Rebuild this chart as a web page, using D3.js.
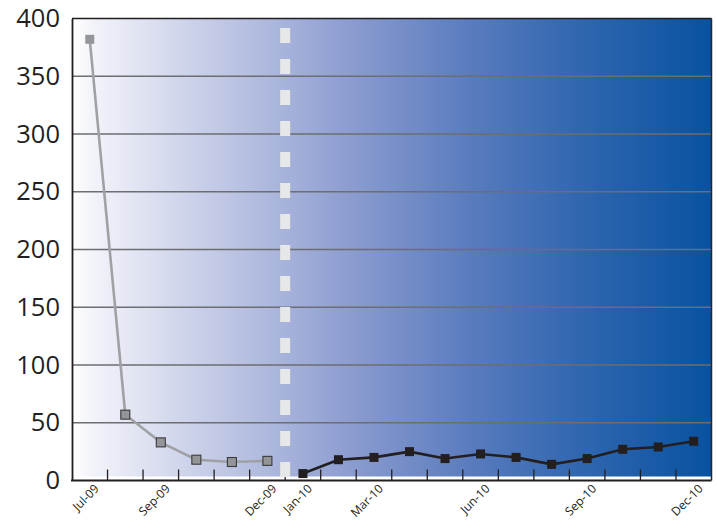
<!DOCTYPE html>
<html><head><meta charset="utf-8">
<script src="https://cdn.jsdelivr.net/npm/d3@7"></script>
<style>body{margin:0;background:#fff}svg{display:block}</style>
</head><body><svg id="c" width="717" height="522"></svg>
<script>
const months = ["Jul-09","Aug-09","Sep-09","Oct-09","Nov-09","Dec-09","Jan-10","Feb-10","Mar-10","Apr-10","May-10","Jun-10","Jul-10","Aug-10","Sep-10","Oct-10","Nov-10","Dec-10"];
const series2009 = [382, 57, 33, 18, 16, 17];
const series2010 = [6, 18, 20, 25, 19, 23, 20, 14, 19, 27, 29, 34];
const labeledMonths = ["Jul-09","Sep-09","Dec-09","Jan-10","Mar-10","Jun-10","Sep-10","Dec-10"];
const yTicks = [0,50,100,150,200,250,300,350,400];

const svg = d3.select("#c");
const L = 72, R = 711.5, T = 18.5, B = 480.5;
const x = d3.scaleBand().domain(months).range([L, R]);
const y = d3.scaleLinear().domain([0, 400]).range([B, T]);

const defs = svg.append("defs");
const g = defs.append("linearGradient").attr("id","bg").attr("x1","0").attr("x2","1").attr("y1","0").attr("y2","0");
[[0,"#ffffff"],[0.03,"#f3f4fa"],[0.18,"#cdd3ea"],[0.29,"#b2bcdf"],[0.43,"#8d9dd0"],[0.62,"#5a7cbe"],[0.79,"#3167b0"],[1,"#0852a0"]]
  .forEach(([o,c]) => g.append("stop").attr("offset",o).attr("stop-color",c));

svg.append("rect").attr("x",L).attr("y",T).attr("width",R-L).attr("height",y(0)-4-T).attr("fill","url(#bg)");

// gridlines
svg.append("g").selectAll("line").data(yTicks.filter(d=>d>0 && d<400)).join("line")
  .attr("x1",L).attr("x2",R).attr("y1",d=>y(d)).attr("y2",d=>y(d))
  .attr("stroke","#6d6e71").attr("stroke-width",1.4);

// borders
svg.append("line").attr("x1",L).attr("x2",R).attr("y1",T).attr("y2",T).attr("stroke","#231f20").attr("stroke-width",1.5);
svg.append("line").attr("x1",R).attr("x2",R).attr("y1",T).attr("y2",B).attr("stroke","#1c2a3f").attr("stroke-width",1.5);

// y axis
const ya = d3.axisLeft(y).tickValues(yTicks).tickSize(0).tickPadding(12);
const yg = svg.append("g").attr("transform",`translate(${L},0)`).call(ya);
yg.select(".domain").attr("stroke","#231f20").attr("stroke-width",1.8);
yg.selectAll("text").attr("font-family","'Open Sans', sans-serif").attr("font-size",25.5).attr("fill","#231f20");

// x axis with ticks at band boundaries pointing up
const bounds = months.slice(1).map(m => x(m));
svg.append("g").selectAll("line").data(bounds).join("line")
  .attr("x1",d=>d).attr("x2",d=>d).attr("y1",B-11).attr("y2",B)
  .attr("stroke","#231f20").attr("stroke-width",1.3);
svg.append("line").attr("x1",L-1).attr("x2",R).attr("y1",B).attr("y2",B).attr("stroke","#231f20").attr("stroke-width",1.8);

svg.append("g").selectAll("text").data(labeledMonths).join("text")
  .attr("transform",d=>`translate(${x(d)+x.bandwidth()/2+4},${B+3}) rotate(-45)`)
  .attr("text-anchor","end").attr("dy","0.7em")
  .attr("font-family","'Open Sans', sans-serif").attr("font-size",12).attr("fill","#231f20")
  .text(d=>d);

// dashed divider
const divX = x("Jan-10");
svg.append("line").attr("x1",divX).attr("x2",divX).attr("y1",28).attr("y2",B+1)
  .attr("stroke","#e6e7e8").attr("stroke-width",10).attr("stroke-dasharray","15 16");

const cx = m => x(m) + x.bandwidth()/2;
const d09 = series2009.map((v,i)=>({m:months[i],v}));
const d10 = series2010.map((v,i)=>({m:months[i+6],v}));
const line = d3.line().x(d=>cx(d.m)).y(d=>y(d.v));

svg.append("path").datum(d09).attr("d",line).attr("fill","none").attr("stroke","#a0a1a4").attr("stroke-width",2.6);
svg.append("path").datum(d10).attr("d",line).attr("fill","none").attr("stroke","#231f20").attr("stroke-width",2.6);

const s = 9;
svg.append("g").selectAll("rect").data(d09).join("rect")
  .attr("x",d=>cx(d.m)-s/2).attr("y",d=>y(d.v)-s/2).attr("width",s).attr("height",s)
  .attr("fill","#939598").attr("stroke",(d,i)=>i===0?"none":"#3a3a3c").attr("stroke-width",1.1);
svg.append("g").selectAll("rect").data(d10).join("rect")
  .attr("x",d=>cx(d.m)-s/2).attr("y",d=>y(d.v)-s/2).attr("width",s).attr("height",s)
  .attr("fill","#231f20");
</script></body></html>
